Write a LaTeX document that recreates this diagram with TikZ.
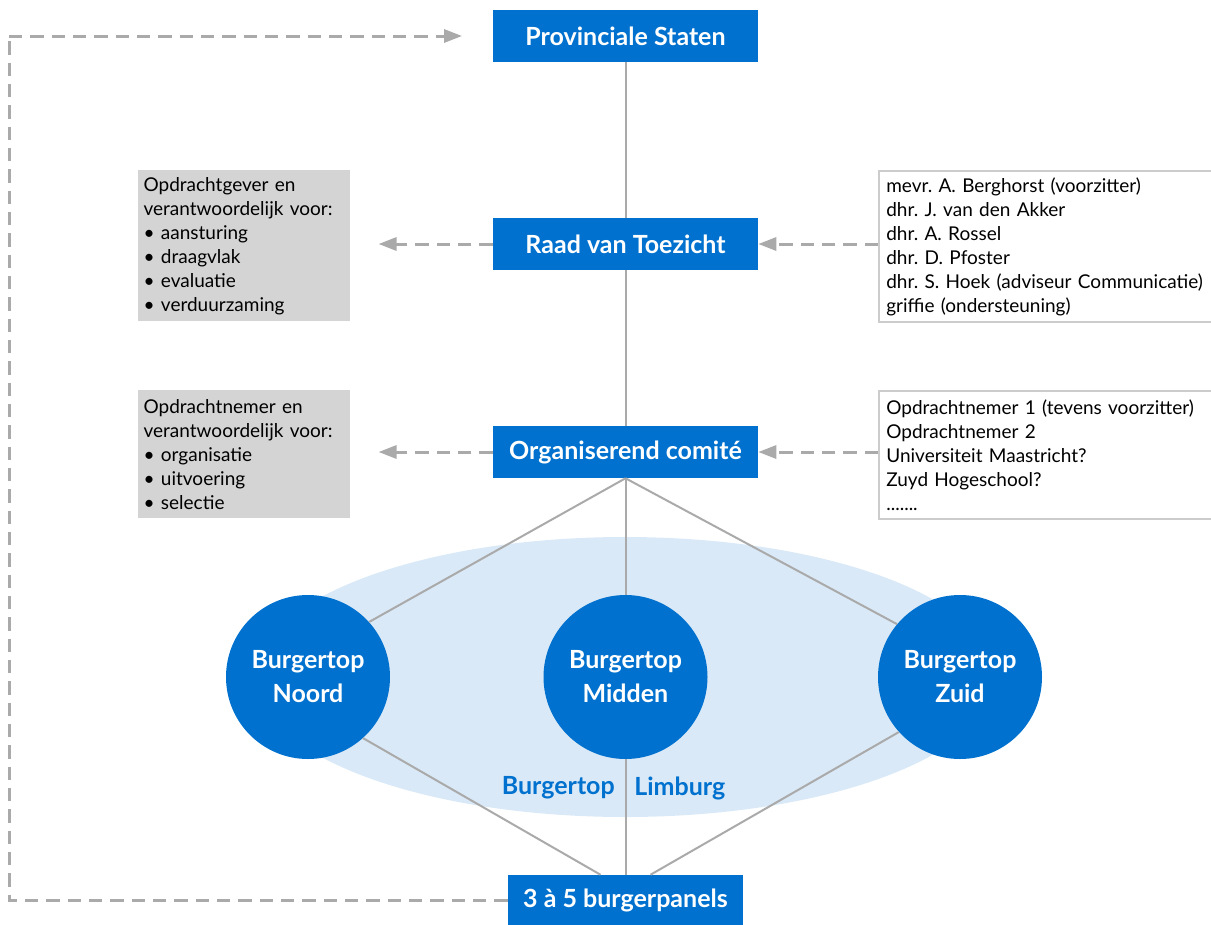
\documentclass[tikz,border=0pt]{standalone}
\usepackage{fontspec}
\setmainfont{Lato}
\usetikzlibrary{arrows.meta}
\definecolor{pblue}{HTML}{0071CE}
\definecolor{lgray}{HTML}{AAAAAA}
\definecolor{boxgray}{HTML}{D4D4D4}
\definecolor{bordergray}{HTML}{CCCCCC}
\definecolor{ellblue}{HTML}{DAE9F7}
\frenchspacing
\begin{document}
\begin{tikzpicture}[x=0.75pt,y=-0.75pt,
  bluebox/.style={fill=pblue, text=white, font=\fontsize{18.75}{22}\selectfont\bfseries,
    minimum width=198.75pt, minimum height=39pt, inner sep=0pt},
  panelbox/.style={bluebox, minimum width=176.25pt, minimum height=37.5pt},
  topcircle/.style={circle, fill=pblue, text=white, minimum size=123pt, inner sep=0pt,
    align=center, font=\fontsize{18.75}{25.5}\selectfont\bfseries},
  infobox/.style={fill=boxgray, anchor=north west, minimum width=159pt, text width=151pt,
    inner xsep=4pt, inner ysep=0pt, align=left, font=\fontsize{14.25}{18}\selectfont},
  listbox/.style={draw=bordergray, line width=1.5pt, anchor=north west, minimum width=255pt,
    text width=245pt, inner xsep=5.5pt, inner ysep=0pt, align=left,
    font=\fontsize{14.25}{18}\selectfont},
  conn/.style={draw=lgray, line width=1.5pt},
  dasharrow/.style={draw=lgray, line width=2.25pt, dash pattern=on 10pt off 6pt,
    -{Triangle[length=13.5pt,width=9.75pt]}},
  dashline/.style={draw=lgray, line width=2.25pt, dash pattern=on 10pt off 6pt},
  biglabel/.style={text=pblue, font=\fontsize{18.75}{22}\selectfont\bfseries, inner sep=0pt}
]
\useasboundingbox (0,0) rectangle (1211,925);

% background ellipse
\fill[ellblue] (625,677) ellipse [x radius=277.5pt, y radius=105pt];

% main boxes
\node[bluebox] (ps) at (625.5,36) {Provinciale Staten};
\node[bluebox] (rvt) at (625.5,244) {Raad van Toezicht};
\node[bluebox] (oc) at (625.5,452) {Organiserend comité};
\node[panelbox] (panels) at (625.5,900) {3 à 5 burgerpanels};

% circles
\node[topcircle] (noord) at (308,677) {Burgertop\\Noord};
\node[topcircle] (midden) at (625.5,677) {Burgertop\\Midden};
\node[topcircle] (zuid) at (960,677) {Burgertop\\Zuid};

% labels
\node[biglabel, anchor=east] (bl1) at (615,788) {Burgertop};
\node[biglabel, anchor=west] (bl2) at (634,788) {Limburg};

% side boxes
\node[infobox, minimum height=113.25pt] (g1) at (138,170) {Opdrachtgever en\\verantwoordelijk voor:\\• aansturing\\• draagvlak\\• evaluatie\\• verduurzaming};
\node[infobox, minimum height=96pt] (g2) at (138,390) {Opdrachtnemer en\\verantwoordelijk voor:\\• organisatie\\• uitvoering\\• selectie};
\node[listbox, minimum height=113.25pt] (r1) at (878,170) {mevr. A. Berghorst (voorzitter)\\dhr. J. van den Akker\\dhr. A. Rossel\\dhr. D. Pfoster\\dhr. S. Hoek (adviseur Communicatie)\\griffie (ondersteuning)};
\node[listbox, minimum height=96pt] (r2) at (878,390) {Opdrachtnemer 1 (tevens voorzitter)\\Opdrachtnemer 2\\Universiteit Maastricht?\\Zuyd Hogeschool?\\.......};

% connectors
\draw[conn] (ps.south) -- (rvt.north);
\draw[conn] (rvt.south) -- (oc.north);
\draw[conn] (oc.south) -- (noord.42);
\draw[conn] (oc.south) -- (midden.north);
\draw[conn] (oc.south) -- (zuid.140);
\draw[conn] (noord.-48) -- ([xshift=-18.75pt]panels.north);
\draw[conn] (midden.south) -- (panels.north);
\draw[conn] (zuid.-138) -- ([xshift=18.75pt]panels.north);

% dashed arrows
\draw[dasharrow, shorten >=21pt] (rvt.west) -- (g1.east |- rvt.west);
\draw[dasharrow] (r1.west |- rvt.east) -- (rvt.east);
\draw[dasharrow, shorten >=21pt] (oc.west) -- (g2.east |- oc.west);
\draw[dasharrow] (r2.west |- oc.east) -- (oc.east);

\coordinate (cbl) at (9,900);
\coordinate (ctl) at (9,36);
\draw[dashline] (panels.west) -- (cbl) -- (ctl);
\draw[dasharrow, shorten >=23pt] (ctl) -- (ps.west);
\end{tikzpicture}
\end{document}
